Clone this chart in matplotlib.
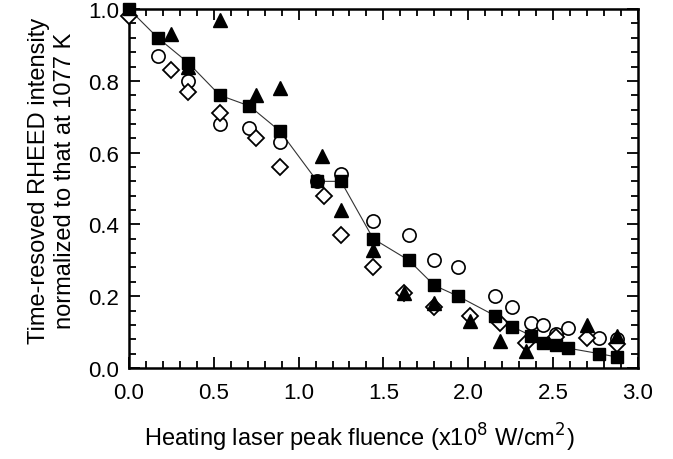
import matplotlib
matplotlib.use("Agg")
import matplotlib.pyplot as plt
from matplotlib.ticker import MultipleLocator, FormatStrFormatter

plt.rcParams['font.family'] = ['Liberation Sans', 'DejaVu Sans']

# Filled squares (connected by line)
sq_x = [0.0, 0.17, 0.35, 0.535, 0.71, 0.89, 1.11, 1.25, 1.44, 1.65, 1.80, 1.94, 2.16, 2.26, 2.37, 2.44, 2.52, 2.59, 2.77, 2.88]
sq_y = [1.0, 0.92, 0.85, 0.76, 0.73, 0.66, 0.52, 0.52, 0.36, 0.30, 0.23, 0.20, 0.145, 0.115, 0.09, 0.07, 0.065, 0.055, 0.04, 0.03]

# Open circles
ci_x = [0.17, 0.35, 0.535, 0.71, 0.89, 1.11, 1.25, 1.44, 1.65, 1.80, 1.94, 2.16, 2.26, 2.37, 2.44, 2.52, 2.59, 2.77, 2.88]
ci_y = [0.87, 0.80, 0.68, 0.67, 0.63, 0.52, 0.54, 0.41, 0.37, 0.30, 0.28, 0.20, 0.17, 0.125, 0.12, 0.095, 0.11, 0.083, 0.08]

# Filled triangles
tr_x = [0.25, 0.35, 0.535, 0.75, 0.89, 1.14, 1.25, 1.44, 1.62, 1.80, 2.01, 2.19, 2.34, 2.70, 2.88]
tr_y = [0.93, 0.84, 0.97, 0.76, 0.78, 0.59, 0.44, 0.33, 0.21, 0.18, 0.13, 0.075, 0.047, 0.12, 0.09]

# Open diamonds
di_x = [0.0, 0.25, 0.35, 0.535, 0.75, 0.89, 1.15, 1.25, 1.44, 1.62, 1.80, 2.01, 2.19, 2.34, 2.52, 2.70, 2.88]
di_y = [0.98, 0.83, 0.77, 0.71, 0.64, 0.56, 0.48, 0.37, 0.28, 0.21, 0.17, 0.145, 0.125, 0.07, 0.085, 0.083, 0.067]

fig = plt.figure(figsize=(6.73, 4.60), dpi=100)
ax = fig.add_axes([0.1917, 0.198, 0.756, 0.780])

ax.plot(sq_x, sq_y, '-', color='#333333', lw=0.8, zorder=2, clip_on=False)
ax.plot(ci_x, ci_y, 'o', ms=9.5, mfc='white', mec='black', mew=1.2, ls='none', zorder=3, clip_on=False)
ax.plot(di_x, di_y, 'D', ms=8, mfc='white', mec='black', mew=1.3, ls='none', zorder=3, clip_on=False)
ax.plot(tr_x, tr_y, '^', ms=9.5, mfc='black', mec='black', ls='none', zorder=4, clip_on=False)
ax.plot(sq_x, sq_y, 's', ms=8.5, mfc='black', mec='black', ls='none', zorder=5, clip_on=False)

ax.set_xlim(0, 3.0)
ax.set_ylim(0, 1.0)
ax.xaxis.set_major_locator(MultipleLocator(0.5))
ax.xaxis.set_minor_locator(MultipleLocator(0.1))
ax.yaxis.set_major_locator(MultipleLocator(0.2))
ax.yaxis.set_minor_locator(MultipleLocator(0.04))
ax.xaxis.set_major_formatter(FormatStrFormatter('%.1f'))
ax.yaxis.set_major_formatter(FormatStrFormatter('%.1f'))

ax.tick_params(which='both', direction='in', top=True, right=True, width=1.3, labelsize=16, colors='black')
ax.tick_params(which='major', length=8)
ax.tick_params(which='minor', length=5)
ax.tick_params(axis='x', which='major', pad=10)
ax.tick_params(axis='y', which='major', pad=7)
for s in ax.spines.values():
    s.set_linewidth(1.8)

ax.set_xlabel('Heating laser peak fluence (x10$^{8}$ W/cm$^{2}$)', fontsize=17, labelpad=13)
ax.set_ylabel('Time-resoved RHEED intensity\nnormalized to that at 1077 K', fontsize=17, labelpad=9, linespacing=1.25)
ax.xaxis.label.set_x(0.452)
ax.yaxis.label.set_y(0.524)

fig.savefig('out.png', dpi=100)
